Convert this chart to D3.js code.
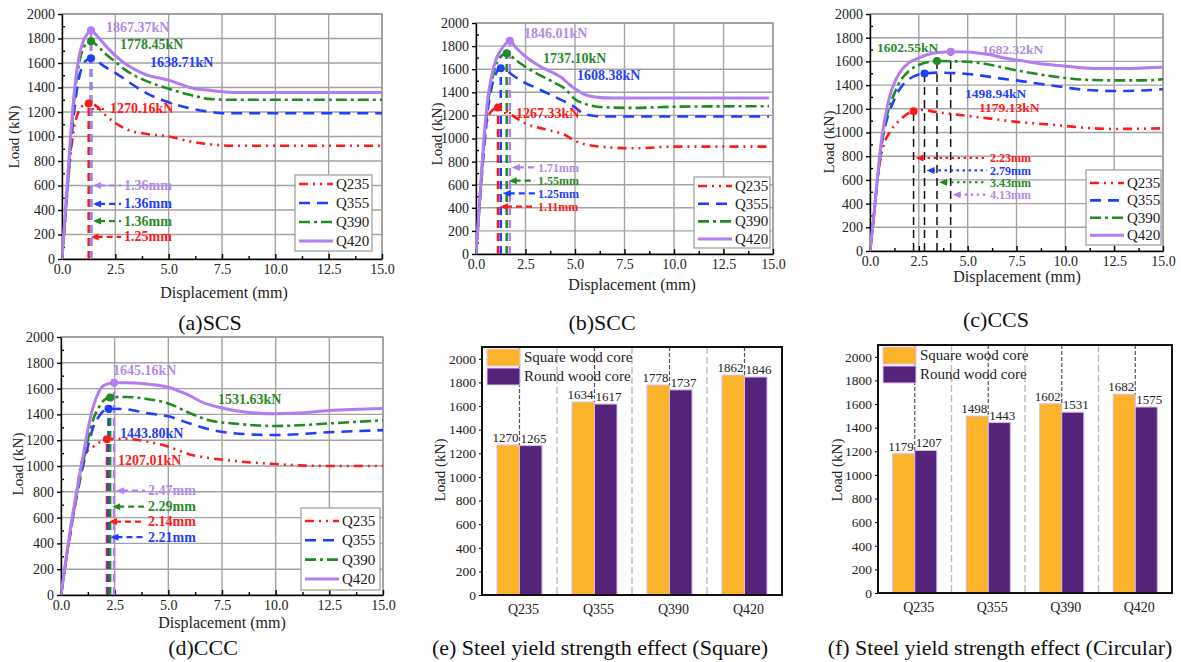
<!DOCTYPE html>
<html>
<head>
<meta charset="utf-8">
<script src="https://cdn.jsdelivr.net/npm/d3@7"></script>
<style>
  body { margin: 0; background: #fff; }
  svg { display: block; }
  svg text { font-family: "Liberation Serif", "DejaVu Serif", "Times New Roman", serif !important; }
</style>
</head>
<body>
<svg id="fig" width="1181" height="662" font-family="Liberation Serif, serif"></svg>
<script>
const svg = d3.select("#fig");

// ---- series shared by the four load-displacement panels ----
const seriesNames  = ["Q235", "Q355", "Q390", "Q420"];
const seriesColors = ["#ff1a1a", "#1f3fff", "#1e8c1e", "#b27cf2"];
const labelColors  = ["#ff1a1a", "#1f3fff", "#2b8a2b", "#b48ae8"];
const seriesDash   = ["9,5,2,5,2,5", "11,7", "11,4,3,4", null];
const xTicks = [0, 2.5, 5, 7.5, 10, 12.5, 15];

// (a) SCS  [displacement mm, load kN]
const scsQ235 = [[0,0],[0.2,450],[0.4,850],[0.6,1100],[0.8,1210],[1.0,1255],[1.25,1270],[1.6,1250],[2.0,1180],[2.5,1110],[3.0,1060],[4.0,1020],[5.0,1000],[6.0,960],[7.0,935],[8.0,925],[15,925]];
const scsQ355 = [[0,0],[0.2,450],[0.4,900],[0.6,1250],[0.8,1480],[1.0,1590],[1.2,1630],[1.36,1639],[1.6,1620],[2.0,1570],[2.5,1520],[3.0,1460],[4.0,1350],[5.0,1280],[6.0,1230],[7.0,1200],[7.5,1190],[15,1190]];
const scsQ390 = [[0,0],[0.2,450],[0.4,950],[0.6,1350],[0.8,1600],[1.0,1720],[1.2,1770],[1.36,1778],[1.6,1750],[2.0,1680],[2.5,1610],[3.0,1540],[4.0,1450],[5.0,1390],[6.0,1340],[7.0,1305],[8.0,1300],[15,1300]];
const scsQ420 = [[0,0],[0.2,500],[0.4,1000],[0.6,1400],[0.8,1650],[1.0,1780],[1.2,1840],[1.36,1867],[1.6,1830],[2.0,1750],[2.5,1660],[3.0,1590],[3.5,1540],[4.0,1500],[4.5,1480],[5.0,1460],[5.5,1430],[6.0,1400],[7.0,1375],[8.0,1360],[10,1360],[15,1360]];
const scsPeakDisp = [1.25, 1.36, 1.36, 1.36];
const scsPeakLoad = [1270.16, 1638.71, 1778.45, 1867.37];

// (b) SCC
const sccQ235 = [[0,0],[0.2,500],[0.4,950],[0.6,1180],[0.8,1240],[1.11,1267],[1.5,1240],[2.0,1180],[2.5,1130],[3.5,1080],[4.5,1030],[5.0,980],[6.0,935],[8.0,915],[10,930],[14.8,930]];
const sccQ355 = [[0,0],[0.2,470],[0.4,900],[0.6,1250],[0.8,1450],[1.0,1560],[1.25,1608],[1.6,1580],[2.0,1530],[2.5,1480],[3.0,1440],[4.0,1360],[5.0,1270],[5.5,1210],[6.5,1190],[14.8,1190]];
const sccQ390 = [[0,0],[0.2,480],[0.4,950],[0.6,1300],[0.8,1500],[1.0,1630],[1.2,1700],[1.55,1737],[2.0,1680],[2.5,1620],[3.0,1570],[4.0,1480],[4.5,1430],[5.0,1340],[5.5,1300],[6.5,1270],[8.0,1265],[10,1275],[14.8,1280]];
const sccQ420 = [[0,0],[0.2,500],[0.4,1000],[0.6,1350],[0.8,1550],[1.0,1680],[1.2,1750],[1.5,1820],[1.71,1846],[2.0,1790],[2.5,1710],[3.0,1650],[3.5,1600],[4.0,1560],[4.3,1530],[4.7,1470],[5.0,1430],[5.5,1380],[6.0,1360],[7.0,1350],[14.8,1350]];
const sccPeakDisp = [1.11, 1.25, 1.55, 1.71];
const sccPeakLoad = [1267.33, 1608.38, 1737.10, 1846.01];

// (c) CCS
const ccsQ235 = [[0,0],[0.2,300],[0.4,620],[0.6,830],[0.8,940],[1.0,1000],[1.5,1100],[2.0,1165],[2.23,1179],[2.6,1190],[3.5,1170],[5.0,1140],[6.5,1110],[7.5,1090],[9.0,1070],[10,1055],[11,1040],[12.5,1030],[15,1035]];
const ccsQ355 = [[0,0],[0.2,300],[0.4,630],[0.6,900],[0.8,1070],[1.0,1180],[1.25,1280],[1.5,1360],[2.0,1450],[2.5,1490],[2.79,1499],[3.5,1505],[4.5,1500],[5.5,1485],[6.5,1460],[7.5,1440],[8.5,1415],[10,1380],[11,1360],[12.5,1350],[14,1355],[15,1365]];
const ccsQ390 = [[0,0],[0.2,300],[0.4,640],[0.6,920],[0.8,1100],[1.0,1220],[1.25,1330],[1.5,1420],[2.0,1520],[2.5,1570],[3.0,1595],[3.43,1603],[4.5,1600],[5.5,1590],[6.5,1560],[7.5,1525],[8.5,1495],[10,1460],[11,1445],[12.5,1440],[14,1440],[15,1450]];
const ccsQ420 = [[0,0],[0.2,300],[0.4,650],[0.6,950],[0.8,1150],[1.0,1300],[1.25,1420],[1.5,1500],[2.0,1590],[2.5,1630],[3.0,1660],[3.5,1675],[4.13,1682],[5.0,1680],[6.0,1660],[7.0,1625],[8.0,1600],[9.0,1575],[10,1560],[11,1545],[12,1540],[13,1540],[14,1545],[15,1550]];
const ccsPeakDisp = [2.23, 2.79, 3.43, 4.13];
const ccsPeakLoad = [1179.13, 1498.94, 1602.55, 1682.32];

// (d) CCC
const cccQ235 = [[0,0],[0.25,280],[0.5,540],[0.75,820],[1.0,1060],[1.25,1120],[1.5,1150],[1.75,1180],[2.14,1207],[3.0,1210],[4.0,1190],[5.0,1150],[6.0,1090],[7.0,1060],[8.0,1040],[10,1015],[12.5,1000],[15,1000]];
const cccQ355 = [[0,0],[0.25,290],[0.5,550],[0.75,780],[1.0,980],[1.25,1150],[1.5,1300],[1.75,1380],[2.0,1430],[2.21,1444],[3.0,1440],[4.0,1410],[5.0,1385],[6.0,1330],[7.0,1280],[8.0,1255],[10,1240],[12.5,1262],[15,1278]];
const cccQ390 = [[0,0],[0.25,290],[0.5,560],[0.75,790],[1.0,1000],[1.25,1200],[1.5,1360],[1.75,1450],[2.0,1510],[2.29,1532],[3.0,1535],[4.0,1520],[5.0,1485],[6.0,1410],[7.0,1350],[8.0,1330],[10,1310],[12.5,1330],[15,1355]];
const cccQ420 = [[0,0],[0.25,300],[0.5,580],[0.75,820],[1.0,1050],[1.25,1280],[1.5,1460],[1.75,1570],[2.0,1625],[2.47,1645],[3.0,1645],[4.0,1635],[5.0,1610],[5.5,1580],[6.0,1545],[6.5,1500],[7.5,1450],[8.5,1420],[10,1405],[11,1410],[12.5,1430],[15,1445]];
const cccPeakDisp = [2.14, 2.21, 2.29, 2.47];
const cccPeakLoad = [1207.01, 1443.80, 1531.63, 1645.16];

// ---- bar panels ----
const categories = ["Q235", "Q355", "Q390", "Q420"];
const squareCoreSq = [1270, 1634, 1778, 1862];
const roundCoreSq  = [1265, 1617, 1737, 1846];
const squareCoreCi = [1179, 1498, 1602, 1682];
const roundCoreCi  = [1207, 1443, 1531, 1575];
const barNames  = ["Square wood core", "Round wood core"];
const barColors = ["#fbb429", "#54247b"];

function linePanel(p) {
  const x = d3.scaleLinear().domain([0, 15]).range([p.l, p.r]);
  const y = d3.scaleLinear().domain([0, 2000]).range([p.b, p.t]);
  const g = svg.append("g");
  const clipId = "clip" + p.id;
  svg.append("clipPath").attr("id", clipId)
    .append("rect").attr("x", p.l).attr("y", p.t).attr("width", p.r - p.l).attr("height", p.b - p.t);

  // grid
  g.selectAll(null).data(xTicks.slice(1)).join("line")
    .attr("x1", d => x(d)).attr("x2", d => x(d)).attr("y1", p.t).attr("y2", p.b)
    .attr("stroke", "#a3a3a3").attr("stroke-width", 1.4);
  g.selectAll(null).data(d3.range(200, 2001, 200)).join("line")
    .attr("x1", p.l).attr("x2", p.r).attr("y1", d => y(d)).attr("y2", d => y(d))
    .attr("stroke", "#a3a3a3").attr("stroke-width", 1.4);
  g.append("rect").attr("x", p.l).attr("y", p.t).attr("width", p.r - p.l).attr("height", p.b - p.t)
    .attr("fill", "none").attr("stroke", "#999").attr("stroke-width", 1.4);

  // axes
  const xa = g.append("g").attr("transform", `translate(0,${p.b})`)
    .call(d3.axisBottom(x).tickValues(xTicks).tickFormat(d3.format(".1f")).tickSizeInner(-5).tickSizeOuter(0).tickPadding(5));
  g.append("g").attr("transform", `translate(0,${p.b})`)
    .call(d3.axisBottom(x).tickValues(d3.range(1.25, 15, 2.5)).tickFormat("").tickSizeInner(-3).tickSizeOuter(0))
    .select(".domain").remove();
  const ya = g.append("g").attr("transform", `translate(${p.l},0)`)
    .call(d3.axisLeft(y).tickValues(d3.range(0, 2001, 200)).tickFormat(d3.format("d")).tickSizeInner(4).tickSizeOuter(0).tickPadding(3));
  g.append("g").attr("transform", `translate(${p.l},0)`)
    .call(d3.axisLeft(y).tickValues(d3.range(100, 2000, 200)).tickFormat("").tickSizeInner(-3).tickSizeOuter(0))
    .select(".domain").remove();
  g.selectAll(".domain").attr("stroke", "#000").attr("stroke-width", 1.4);
  g.selectAll(".tick line").attr("stroke", "#000").attr("stroke-width", 1.4);
  xa.selectAll("text").attr("font-size", 14).attr("fill", "#222");
  ya.selectAll("text").attr("font-size", 14).attr("fill", "#222");

  g.append("text").attr("x", p.xlab[0]).attr("y", p.xlab[1]).attr("text-anchor", "middle")
    .attr("font-size", 16).attr("fill", "#222").text("Displacement (mm)");
  g.append("text").attr("transform", `translate(${p.ylab[0]},${p.ylab[1]}) rotate(-90)`)
    .attr("text-anchor", "middle").attr("font-size", 15).attr("fill", "#222").text("Load (kN)");

  // vertical peak lines
  p.peakDisp.forEach((d, i) => {
    g.append("line").attr("x1", x(d)).attr("x2", x(d)).attr("y1", y(0)).attr("y2", y(p.peakLoad[i]))
      .attr("stroke", p.vColor || seriesColors[i]).attr("stroke-width", p.vColor ? 1.5 : 2.5)
      .attr("stroke-dasharray", "8,5");
  });

  // curves
  const line = d3.line().x(d => x(d[0])).y(d => y(d[1])).curve(d3.curveMonotoneX);
  const cg = g.append("g").attr("clip-path", `url(#${clipId})`);
  p.series.forEach((s, i) => {
    cg.append("path").attr("d", line(s)).attr("fill", "none")
      .attr("stroke", seriesColors[i]).attr("stroke-width", i === 3 ? 3 : 2.6)
      .attr("stroke-dasharray", seriesDash[i]);
  });

  // peak markers and labels
  p.peakDisp.forEach((d, i) => {
    g.append("circle").attr("cx", x(d)).attr("cy", y(p.peakLoad[i])).attr("r", 4).attr("fill", seriesColors[i]);
    const lp = p.loadLabels[i];
    g.append("text").attr("x", lp[0]).attr("y", lp[1]).attr("font-size", p.loadFont).attr("font-weight", "bold")
      .attr("fill", labelColors[i]).text(d3.format(".2f")(p.peakLoad[i]) + "kN");
  });
  if (p.leader) {
    g.append("line").attr("x1", p.leader[0]).attr("x2", p.leader[1]).attr("y1", p.leader[2]).attr("y2", p.leader[2])
      .attr("stroke", seriesColors[0]).attr("stroke-width", 2).attr("stroke-dasharray", "2,3");
  }

  // displacement arrows
  p.peakDisp.forEach((d, i) => {
    const yy = y(p.arrowLoad[i]), x0 = x(d) + 2, x1 = p.arrowTextX - 3;
    g.append("line").attr("x1", x0 + 6).attr("x2", x1).attr("y1", yy).attr("y2", yy)
      .attr("stroke", seriesColors[i]).attr("stroke-width", 2.2)
      .attr("stroke-dasharray", p.arrowDash);
    g.append("path").attr("d", `M${x0},${yy}L${x0 + 8},${yy - 3.5}L${x0 + 8},${yy + 3.5}Z`).attr("fill", seriesColors[i]);
    g.append("text").attr("x", p.arrowTextX).attr("y", yy + 4.5).attr("font-size", p.arrowFont).attr("font-weight", "bold")
      .attr("fill", labelColors[i]).text(d3.format(".2f")(d) + "mm");
  });

  // legend
  const lg = g.append("g");
  lg.append("rect").attr("x", p.legend[0]).attr("y", p.legend[1]).attr("width", p.legend[2]).attr("height", p.legend[3])
    .attr("fill", "#fff").attr("stroke", "#999").attr("stroke-width", 1.2);
  seriesNames.forEach((n, i) => {
    const yy = p.legend[1] + p.legendRow0 + i * p.legendStep;
    lg.append("line").attr("x1", p.legend[0] + 4).attr("x2", p.legend[0] + 38).attr("y1", yy).attr("y2", yy)
      .attr("stroke", seriesColors[i]).attr("stroke-width", i === 3 ? 3 : 2.6).attr("stroke-dasharray", seriesDash[i]);
    lg.append("text").attr("x", p.legend[0] + 41).attr("y", yy + 5).attr("font-size", 15).attr("fill", "#222").text(n);
  });

  svg.append("text").attr("x", p.caption[0]).attr("y", p.caption[1]).attr("text-anchor", "middle")
    .attr("font-size", 22).attr("fill", "#111").text(p.title);
}

function barPanel(p) {
  const x = d3.scaleBand().domain(categories).range([p.l, p.r]);
  const y = d3.scaleLinear().domain([0, 2100]).range([p.b, p.t]);
  const bw = x.bandwidth();
  const g = svg.append("g");

  // light band separators
  g.selectAll(null).data(categories.slice(1)).join("line")
    .attr("x1", d => x(d)).attr("x2", d => x(d)).attr("y1", p.t).attr("y2", p.b)
    .attr("stroke", "#bdbdbd").attr("stroke-width", 1.4).attr("stroke-dasharray", "7,3");

  // bars
  const groups = [p.square, p.round];
  groups.forEach((vals, k) => {
    g.selectAll(null).data(categories).join("rect")
      .attr("x", d => x(d) + bw * (0.2 + 0.3 * k)).attr("width", bw * 0.3)
      .attr("y", (d, i) => y(vals[i])).attr("height", (d, i) => y(0) - y(vals[i]))
      .attr("fill", barColors[k]).attr("stroke", "#d9b8ea").attr("stroke-width", 1);
  });

  // dark dashed guides from top to bars
  g.selectAll(null).data(categories).join("line")
    .attr("x1", d => x(d) + bw * 0.5).attr("x2", d => x(d) + bw * 0.5)
    .attr("y1", p.t).attr("y2", (d, i) => y(Math.max(p.square[i], p.round[i])))
    .attr("stroke", "#555").attr("stroke-width", 1.2).attr("stroke-dasharray", "4,2");

  // value labels
  groups.forEach((vals, k) => {
    g.selectAll(null).data(categories).join("text")
      .attr("x", d => x(d) + bw * 0.5 + (k === 0 ? -1 : 1)).attr("y", (d, i) => y(vals[i]) - 3)
      .attr("text-anchor", k === 0 ? "end" : "start").attr("font-size", 13).attr("fill", "#222")
      .text((d, i) => vals[i]);
  });

  // axes
  const ya = g.append("g").attr("transform", `translate(${p.l},0)`)
    .call(d3.axisLeft(y).tickValues(d3.range(0, 2001, 200)).tickFormat(d3.format("d")).tickSizeInner(3).tickSizeOuter(0).tickPadding(3));
  ya.selectAll("text").attr("font-size", 13.5).attr("fill", "#222");
  ya.select(".domain").remove();
  g.append("rect").attr("x", p.l).attr("y", p.t).attr("width", p.r - p.l).attr("height", p.b - p.t)
    .attr("fill", "none").attr("stroke", "#111").attr("stroke-width", 2);
  g.selectAll(null).data(categories).join("text")
    .attr("x", d => x(d) + bw / 2 + 4).attr("y", p.b + 19).attr("text-anchor", "middle")
    .attr("font-size", 14).attr("fill", "#222").text(d => d);
  g.append("text").attr("transform", `translate(${p.ylab[0]},${p.ylab[1]}) rotate(-90)`)
    .attr("text-anchor", "middle").attr("font-size", 15).attr("fill", "#222").text("Load (kN)");

  // legend
  barNames.forEach((n, k) => {
    const ly = p.legend[1] + k * 19;
    g.append("rect").attr("x", p.legend[0]).attr("y", ly).attr("width", 33).attr("height", 17)
      .attr("fill", barColors[k]).attr("stroke", "#e2c6f0").attr("stroke-width", 1);
    g.append("text").attr("x", p.legend[0] + 37).attr("y", ly + 13).attr("font-size", 15).attr("fill", "#222").text(n);
  });

  svg.append("text").attr("x", p.caption[0]).attr("y", p.caption[1]).attr("text-anchor", "middle")
    .attr("font-size", 22).attr("fill", "#111").text(p.title);
}

linePanel({
  id: "a", l: 62, r: 382, t: 14, b: 259, title: "(a)SCS", caption: [210, 330],
  series: [scsQ235, scsQ355, scsQ390, scsQ420], peakDisp: scsPeakDisp, peakLoad: scsPeakLoad,
  loadLabels: [[110, 113], [150, 67], [120, 49], [106, 32]], leader: [92, 107, 109], loadFont: 14,
  arrowLoad: [180, 450, 310, 600], arrowTextX: 124, arrowDash: "6,4", arrowFont: 14,
  legend: [295, 175, 77, 76], legendRow0: 9, legendStep: 19,
  xlab: [224, 298], ylab: [19, 137]
});
linePanel({
  id: "b", l: 476, r: 773, t: 23, b: 254, title: "(b)SCC", caption: [602, 330],
  series: [sccQ235, sccQ355, sccQ390, sccQ420], peakDisp: sccPeakDisp, peakLoad: sccPeakLoad,
  loadLabels: [[516, 118], [577, 80], [543, 63], [524, 38]], leader: [504, 514, 113], loadFont: 14,
  arrowLoad: [410, 525, 635, 750], arrowTextX: 538, arrowDash: "6,4", arrowFont: 12,
  legend: [694, 177, 76, 71], legendRow0: 9, legendStep: 17.7,
  xlab: [632, 290], ylab: [442, 134]
});
linePanel({
  id: "c", l: 870, r: 1163, t: 14, b: 251, title: "(c)CCS", caption: [996, 327],
  series: [ccsQ235, ccsQ355, ccsQ390, ccsQ420], peakDisp: ccsPeakDisp, peakLoad: ccsPeakLoad,
  loadLabels: [[979, 112], [965, 98], [877, 52], [982, 54]], vColor: "#111", loadFont: 13.5,
  arrowLoad: [785, 680, 580, 475], arrowTextX: 990, arrowDash: "2.5,3.5", arrowFont: 12,
  legend: [1086, 170, 75, 75], legendRow0: 13, legendStep: 17.4,
  xlab: [1017, 282], ylab: [834, 142]
});
linePanel({
  id: "d", l: 61, r: 383, t: 337, b: 595, title: "(d)CCC", caption: [203, 655],
  series: [cccQ235, cccQ355, cccQ390, cccQ420], peakDisp: cccPeakDisp, peakLoad: cccPeakLoad,
  loadLabels: [[118, 465], [120, 438], [218, 404], [113, 375]], loadFont: 14,
  arrowLoad: [569, 448, 685, 809], arrowTextX: 148, arrowDash: "6,4", arrowFont: 14,
  legend: [301, 508, 79, 82], legendRow0: 13, legendStep: 19.3,
  xlab: [222, 628], ylab: [23, 464]
});
barPanel({
  l: 482, r: 782, t: 347, b: 595, square: squareCoreSq, round: roundCoreSq,
  legend: [487, 349], ylab: [445, 470], caption: [600, 655],
  title: "(e) Steel yield strength effect (Square)"
});
barPanel({
  l: 878, r: 1172, t: 345, b: 593, square: squareCoreCi, round: roundCoreCi,
  legend: [883, 347], ylab: [842, 470], caption: [1000, 655],
  title: "(f) Steel yield strength effect (Circular)"
});
</script>
</body>
</html>
